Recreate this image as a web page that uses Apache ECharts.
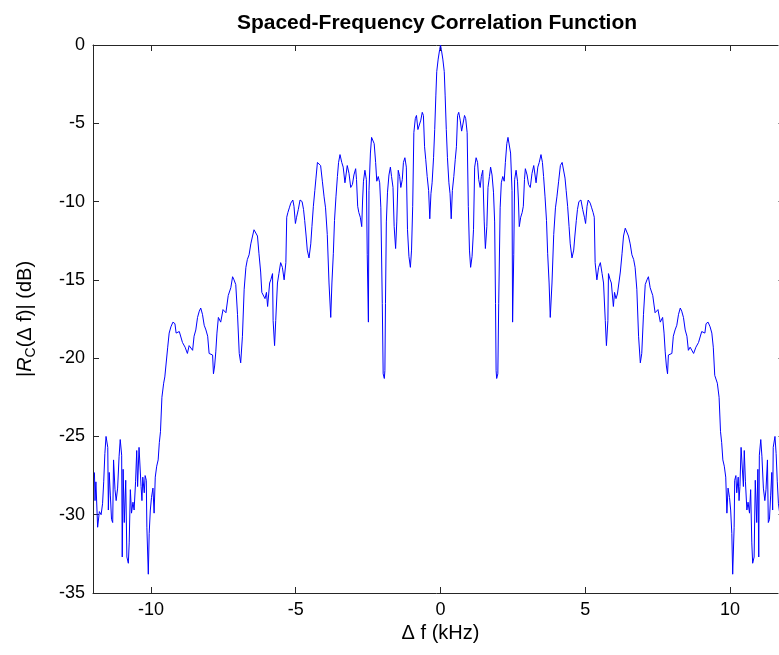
<!DOCTYPE html>
<html>
<head>
<meta charset="utf-8">
<script src="https://cdn.jsdelivr.net/npm/echarts@6/dist/echarts.min.js"></script>
<style>
  html, body { margin: 0; padding: 0; background: #fff; }
  #chart { width: 779px; height: 655px; }
</style>
</head>
<body>
<div id="chart"></div>
<script>
// frequency separation (kHz), left half of the trace
const freqLeft = [
  -11.95, -11.93, -11.90, -11.84, -11.78, -11.72, -11.67, -11.63, -11.59, -11.55,
  -11.49, -11.47, -11.44, -11.40, -11.36, -11.32, -11.29, -11.24, -11.20, -11.15,
  -11.10, -11.06, -11.01, -10.99, -10.96, -10.92, -10.87, -10.83, -10.78, -10.75,
  -10.71, -10.67, -10.62, -10.58, -10.53, -10.49, -10.46, -10.41, -10.38, -10.34,
  -10.31, -10.28, -10.23, -10.20, -10.16, -10.14, -10.09, -10.06, -10.02, -9.98,
  -9.93, -9.89, -9.85, -9.80, -9.75, -9.71, -9.67, -9.62, -9.56, -9.52,
  -9.47, -9.42, -9.37, -9.31, -9.24, -9.17, -9.13, -9.02, -8.91, -8.82,
  -8.74, -8.68, -8.62, -8.56, -8.51, -8.45, -8.39, -8.33, -8.28, -8.22,
  -8.16, -8.10, -8.04, -7.99, -7.93, -7.87, -7.84, -7.80, -7.76, -7.72,
  -7.67, -7.59, -7.51, -7.41, -7.33, -7.24, -7.18, -7.13, -7.07, -7.01,
  -6.95, -6.90, -6.84, -6.78, -6.72, -6.67, -6.61, -6.55, -6.49, -6.44,
  -6.38, -6.32, -6.27, -6.21, -6.17, -6.11, -6.06, -6.01, -5.97, -5.90,
  -5.86, -5.80, -5.78, -5.73, -5.69, -5.63, -5.58, -5.52, -5.46, -5.40,
  -5.34, -5.31, -5.27, -5.22, -5.17, -5.10, -5.06, -5.01, -4.97, -4.91,
  -4.85, -4.78, -4.73, -4.69, -4.64, -4.60, -4.54, -4.48, -4.44, -4.39,
  -4.34, -4.30, -4.25, -4.20, -4.14, -4.08, -4.02, -3.97, -3.91, -3.85,
  -3.79, -3.75, -3.70, -3.66, -3.61, -3.56, -3.52, -3.47, -3.41, -3.36,
  -3.30, -3.22, -3.16, -3.10, -3.04, -2.99, -2.93, -2.90, -2.86, -2.82,
  -2.77, -2.72, -2.69, -2.66, -2.61, -2.56, -2.53, -2.49, -2.47, -2.42,
  -2.38, -2.33, -2.29, -2.24, -2.20, -2.15, -2.10, -2.06, -2.01, -1.98,
  -1.94, -1.92, -1.90, -1.87, -1.83, -1.78, -1.73, -1.69, -1.64, -1.60,
  -1.55, -1.51, -1.46, -1.41, -1.37, -1.32, -1.28, -1.23, -1.18, -1.14,
  -1.09, -1.04, -1.00, -0.96, -0.92, -0.87, -0.83, -0.78, -0.73, -0.68,
  -0.63, -0.59, -0.55, -0.51, -0.46, -0.41, -0.37, -0.33, -0.29, -0.24,
  -0.20, -0.16, -0.13, -0.08, -0.03, 0
];
// |Rc| in dB, left half
const corrLeft = [
  -27.3, -29.1, -27.9, -30.8, -29.8, -30.0, -29.3, -27.9, -26.1, -25.0,
  -25.7, -29.7, -27.3, -28.8, -30.3, -30.5, -26.5, -28.4, -29.1, -28.3,
  -26.3, -25.2, -26.2, -32.7, -27.1, -30.5, -27.8, -32.7, -33.1, -31.8,
  -28.4, -29.9, -29.2, -29.7, -27.9, -25.9, -28.2, -25.7, -25.7, -28.2,
  -29.1, -27.6, -28.6, -27.5, -27.8, -30.8, -33.8, -31.2, -29.7, -28.9,
  -28.3, -29.9, -27.6, -26.9, -26.5, -25.4, -24.7, -22.5, -21.6, -21.2,
  -21.1, -19.3, -18.4, -18.0, -17.7, -17.8, -18.4, -18.3, -19.0, -19.3,
  -19.7, -19.2, -19.3, -19.5, -18.6, -18.2, -17.4, -17.0, -16.8, -17.2,
  -17.9, -18.2, -18.6, -19.7, -19.8, -19.8, -21.0, -20.5, -19.6, -18.4,
  -17.4, -17.7, -16.9, -17.1, -16.0, -15.5, -14.8, -15.0, -15.3, -17.2,
  -19.7, -20.3, -18.6, -15.6, -14.2, -13.7, -13.4, -12.7, -12.2, -11.8,
  -11.7, -12.2, -13.3, -14.5, -15.8, -15.9, -16.2, -15.8, -16.7, -15.2,
  -15.0, -14.6, -17.6, -19.2, -17.6, -15.2, -14.6, -13.9, -14.2, -15.0,
  -13.9, -11.0, -10.7, -10.4, -10.1, -9.9, -10.3, -11.4, -11.0, -10.5,
  -9.9, -10.0, -10.5, -11.2, -12.2, -13.1, -13.6, -12.7, -11.6, -10.3,
  -9.3, -8.5, -7.5, -7.5, -7.7, -8.7, -9.7, -10.4, -12.1, -15.2,
  -17.4, -15.2, -13.3, -11.2, -9.7, -8.4, -7.5, -7.0, -7.5, -7.8,
  -8.8, -7.7, -8.2, -9.1, -8.9, -8.3, -7.9, -8.6, -10.3, -10.7,
  -11.0, -11.6, -9.9, -8.7, -8.0, -8.6, -13.4, -17.7, -9.3, -6.9,
  -5.9, -5.9, -6.3, -7.5, -8.7, -8.4, -8.8, -10.4, -16.5, -21.0,
  -21.3, -20.8, -16.5, -11.3, -9.4, -8.3, -7.8, -8.4, -9.1, -11.6,
  -13.0, -11.3, -8.0, -8.4, -9.1, -8.6, -7.5, -7.2, -7.8, -11.8,
  -13.5, -14.2, -13.1, -10.3, -5.6, -4.7, -4.5, -5.4, -5.5, -4.8,
  -4.3, -4.5, -6.5, -7.3, -8.4, -9.3, -11.1, -9.5, -8.8, -7.2,
  -5.4, -3.2, -1.7, -0.9, -0.3, 0
];
// right half of the trace
const freqRight = [
  0.03, 0.08, 0.13, 0.16, 0.20,
  0.24, 0.29, 0.33, 0.37, 0.41, 0.46, 0.51, 0.55, 0.59, 0.63,
  0.68, 0.73, 0.78, 0.83, 0.87, 0.92, 0.96, 1.00, 1.04, 1.09,
  1.14, 1.18, 1.23, 1.28, 1.32, 1.37, 1.41, 1.46, 1.51, 1.55,
  1.60, 1.64, 1.69, 1.73, 1.78, 1.83, 1.87, 1.90, 1.92, 1.94,
  1.98, 2.01, 2.06, 2.10, 2.15, 2.20, 2.24, 2.29, 2.33, 2.38,
  2.42, 2.47, 2.49, 2.53, 2.56, 2.61, 2.66, 2.69, 2.72, 2.77,
  2.82, 2.86, 2.90, 2.93, 2.99, 3.04, 3.10, 3.16, 3.22, 3.30,
  3.36, 3.41, 3.47, 3.52, 3.56, 3.61, 3.66, 3.70, 3.75, 3.79,
  3.85, 3.91, 3.97, 4.02, 4.08, 4.14, 4.20, 4.25, 4.30, 4.34,
  4.39, 4.44, 4.48, 4.54, 4.60, 4.64, 4.69, 4.73, 4.78, 4.85,
  4.91, 4.97, 5.01, 5.06, 5.10, 5.17, 5.22, 5.27, 5.31, 5.34,
  5.40, 5.46, 5.52, 5.58, 5.63, 5.69, 5.73, 5.78, 5.80, 5.86,
  5.90, 5.97, 6.01, 6.06, 6.11, 6.17, 6.21, 6.27, 6.32, 6.38,
  6.44, 6.49, 6.55, 6.61, 6.67, 6.72, 6.78, 6.84, 6.90, 6.95,
  7.01, 7.07, 7.13, 7.18, 7.24, 7.33, 7.41, 7.51, 7.59, 7.67,
  7.72, 7.76, 7.80, 7.84, 7.87, 7.93, 7.99, 8.04, 8.10, 8.16,
  8.22, 8.28, 8.33, 8.39, 8.45, 8.51, 8.56, 8.62, 8.68, 8.74,
  8.82, 8.91, 9.02, 9.13, 9.17, 9.24, 9.31, 9.37, 9.42, 9.47,
  9.52, 9.56, 9.62, 9.67, 9.71, 9.75, 9.80, 9.85, 9.89, 9.93,
  9.98, 10.02, 10.06, 10.09, 10.14, 10.16, 10.20, 10.23, 10.28, 10.31,
  10.34, 10.38, 10.41, 10.46, 10.49, 10.53, 10.58, 10.62, 10.67, 10.71,
  10.75, 10.78, 10.83, 10.87, 10.92, 10.96, 10.99, 11.01, 11.06, 11.10,
  11.15, 11.20, 11.24, 11.29, 11.32, 11.36, 11.40, 11.44, 11.47, 11.49,
  11.55, 11.59, 11.63, 11.67, 11.72, 11.78, 11.84, 11.90, 11.93, 11.95
];
const corrRight = [
  -0.3, -0.9, -1.7, -3.2, -5.4,
  -7.2, -8.8, -9.5, -11.1, -9.3, -8.4, -7.3, -6.5, -4.5, -4.3,
  -4.8, -5.5, -5.4, -4.5, -4.7, -5.6, -10.3, -13.1, -14.2, -13.5,
  -11.8, -7.8, -7.2, -7.5, -8.6, -9.1, -8.4, -8.0, -11.3, -13.0,
  -11.6, -9.1, -8.4, -7.8, -8.3, -9.4, -11.3, -16.5, -20.8, -21.3,
  -21.0, -16.5, -10.4, -8.8, -8.4, -8.7, -7.5, -6.3, -5.9, -5.9,
  -6.9, -9.3, -17.7, -13.4, -8.6, -8.0, -8.7, -9.9, -11.6, -11.0,
  -10.7, -10.3, -8.6, -7.9, -8.3, -8.9, -9.1, -8.2, -7.7, -8.8,
  -7.8, -7.5, -7.0, -7.5, -8.4, -9.7, -11.2, -13.3, -15.2, -17.4,
  -15.2, -12.1, -10.4, -9.7, -8.7, -7.7, -7.5, -7.5, -8.5, -9.3,
  -10.3, -11.6, -12.7, -13.6, -13.1, -12.2, -11.2, -10.5, -10.0, -9.9,
  -10.5, -11.0, -11.4, -10.3, -9.9, -10.1, -10.4, -10.7, -11.0, -13.9,
  -15.0, -14.2, -13.9, -14.6, -15.2, -17.6, -19.2, -17.6, -14.6, -15.0,
  -15.2, -16.7, -15.8, -16.2, -15.9, -15.8, -14.5, -13.3, -12.2, -11.7,
  -11.8, -12.2, -12.7, -13.4, -13.7, -14.2, -15.6, -18.6, -20.3, -19.7,
  -17.2, -15.3, -15.0, -14.8, -15.5, -16.0, -17.1, -16.9, -17.7, -17.4,
  -18.4, -19.6, -20.5, -21.0, -19.8, -19.8, -19.7, -18.6, -18.2, -17.9,
  -17.2, -16.8, -17.0, -17.4, -18.2, -18.6, -19.5, -19.3, -19.2, -19.7,
  -19.3, -19.0, -18.3, -18.4, -17.8, -17.7, -18.0, -18.4, -19.3, -21.1,
  -21.2, -21.6, -22.5, -24.7, -25.4, -26.5, -26.9, -27.6, -29.9, -28.3,
  -28.9, -29.7, -31.2, -33.8, -30.8, -27.8, -27.5, -28.6, -27.6, -29.1,
  -28.2, -25.7, -25.7, -28.2, -25.9, -27.9, -29.7, -29.2, -29.9, -28.4,
  -31.8, -33.1, -32.7, -27.8, -30.5, -27.1, -32.7, -26.2, -25.2, -26.3,
  -28.3, -29.1, -28.4, -26.5, -30.5, -30.3, -28.8, -27.3, -29.7, -25.7,
  -25.0, -26.1, -27.9, -29.3, -30.0, -29.8, -30.8, -27.9, -29.1, -27.3
];
const xTicks = [-10, -5, 0, 5, 10];

const freq = freqLeft.concat(freqRight);
const corr = corrLeft.concat(corrRight);
const lineData = freq.map((f, i) => [f, corr[i]]);

const chart = echarts.init(document.getElementById("chart"));

const axisColor = "#262626";
const baseFont = "Liberation Sans, Arial, sans-serif";

const option = {
    backgroundColor: "#fff",
    animation: false,
    title: {
        text: "Spaced-Frequency Correlation Function",
        left: 432,
        textAlign: "center",
        top: 8,
        textStyle: {
            fontFamily: baseFont,
            fontWeight: "bold",
            fontSize: 21,
            color: "#000",
        },
    },
    // the axes box runs past the right edge of the window, as in the original
    grid: {
        left: 93,
        top: 45,
        width: 695,
        bottom: 62,
        outerBoundsMode: "none",
        containLabel: false,
    },
    xAxis: [
        {
            type: "value",
            min: -12,
            max: 12,
            position: "bottom",
            axisLine: { onZero: false, lineStyle: { color: axisColor, width: 1 } },
            axisTick: { inside: true, length: 6, customValues: xTicks, lineStyle: { color: axisColor } },
            axisLabel: {
                customValues: xTicks,
                color: "#000",
                fontSize: 18,
                fontFamily: baseFont,
                margin: 8,
            },
            splitLine: { show: false },
            name: "Δ f (kHz)",
            nameLocation: "middle",
            nameGap: 30,
            nameTextStyle: { color: "#000", fontSize: 20, fontFamily: baseFont },
        },
        {
            type: "value",
            min: -12,
            max: 12,
            position: "top",
            axisLine: { onZero: false, lineStyle: { color: axisColor, width: 1 } },
            axisTick: { inside: true, length: 6, customValues: xTicks, lineStyle: { color: axisColor } },
            axisLabel: { show: false },
            splitLine: { show: false },
        },
    ],
    yAxis: [
        {
            type: "value",
            min: -35,
            max: 0,
            interval: 5,
            position: "left",
            axisLine: { onZero: false, lineStyle: { color: axisColor, width: 1 } },
            axisTick: { inside: true, length: 6, lineStyle: { color: axisColor } },
            axisLabel: {
                color: "#000",
                fontSize: 18,
                fontFamily: baseFont,
                margin: 8,
            },
            splitLine: { show: false },
            name: "|{it|R}{sub|C}(Δ f)| (dB)",
            nameLocation: "middle",
            nameRotate: 90,
            nameGap: 55,
            nameTextStyle: {
                color: "#000",
                fontSize: 20,
                fontFamily: baseFont,
                rich: {
                    it: { fontStyle: "italic", fontSize: 20, fontFamily: baseFont, color: "#000" },
                    sub: { fontSize: 14, fontFamily: baseFont, color: "#000", verticalAlign: "bottom", padding: [12, 0, 0, 0] },
                },
            },
        },
        {
            type: "value",
            min: -35,
            max: 0,
            interval: 5,
            position: "right",
            axisLine: { onZero: false, lineStyle: { color: axisColor, width: 1 } },
            axisTick: { inside: true, length: 10, lineStyle: { color: "#999" } },
            axisLabel: { show: false },
            splitLine: { show: false },
        },
    ],
    series: [
        {
            type: "line",
            xAxisIndex: 0,
            yAxisIndex: 0,
            data: lineData,
            showSymbol: false,
            symbol: "none",
            lineStyle: { color: "#0000ff", width: 1 },
            clip: true,
        },
    ],
};

chart.setOption(option);
</script>
</body>
</html>
